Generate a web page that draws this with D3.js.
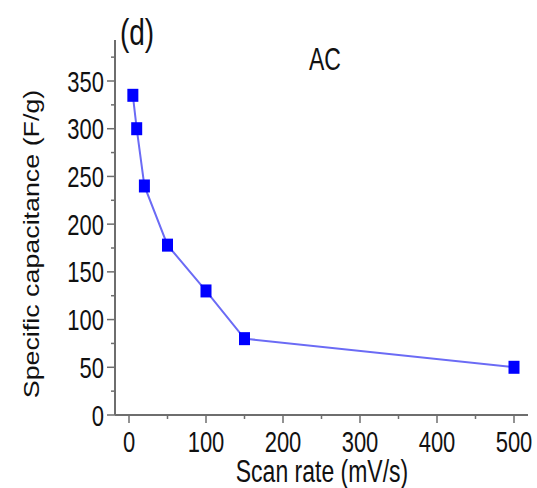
<!DOCTYPE html>
<html>
<head>
<meta charset="utf-8">
<script src="https://cdn.jsdelivr.net/npm/d3@7"></script>
<style>
  body { margin: 0; background: #fff; }
  text { font-family: "Liberation Sans", Arial, sans-serif; fill: #111; }
</style>
</head>
<body>
<svg id="chart" width="537" height="488"></svg>
<script>
// scan rate (mV/s) and specific capacitance (F/g)
var scanRate = [5, 10, 20, 50, 100, 150, 500];
var capacitance = [335, 300, 240, 178, 130, 80, 50];
var xTicks = [0, 100, 200, 300, 400, 500];
var yTicks = [0, 50, 100, 150, 200, 250, 300, 350];

var svg = d3.select("#chart");
var axisColor = "#6e6e6e";
var sy = 1.33; // the source figure is stretched vertically

var x = d3.scaleLinear().domain([0, 500]).range([129, 514]);
var y = d3.scaleLinear().domain([0, 350]).range([415, 81]);

var x0 = 115, x1 = 528, y0 = 415, y1 = 40;

function label(px, py, size, anchor, txt) {
    return svg.append("text")
        .attr("transform", "translate(" + px + "," + py + ") scale(1," + sy + ")")
        .attr("text-anchor", anchor).attr("font-size", size)
        .text(txt);
}

// axis lines
svg.append("line").attr("x1", x0).attr("x2", x1).attr("y1", y0).attr("y2", y0)
    .attr("stroke", axisColor).attr("stroke-width", 2);
svg.append("line").attr("x1", x0).attr("x2", x0).attr("y1", y0).attr("y2", y1)
    .attr("stroke", axisColor).attr("stroke-width", 2);

// x ticks
var xMinor = d3.range(50, 500, 100);
svg.selectAll(".xminor").data(xMinor).enter().append("line")
    .attr("x1", function (d) { return x(d); }).attr("x2", function (d) { return x(d); })
    .attr("y1", y0).attr("y2", y0 + 4)
    .attr("stroke", axisColor).attr("stroke-width", 1.5);
svg.selectAll(".xmajor").data(xTicks).enter().append("line")
    .attr("x1", function (d) { return x(d); }).attr("x2", function (d) { return x(d); })
    .attr("y1", y0).attr("y2", y0 + 8)
    .attr("stroke", axisColor).attr("stroke-width", 1.5);
xTicks.forEach(function (d) { label(x(d), 452, 22, "middle", d); });

// y ticks
var yMinor = d3.range(25, 400, 50);
svg.selectAll(".yminor").data(yMinor).enter().append("line")
    .attr("x1", x0).attr("x2", x0 - 4)
    .attr("y1", function (d) { return y(d); }).attr("y2", function (d) { return y(d); })
    .attr("stroke", axisColor).attr("stroke-width", 1.5);
svg.selectAll(".ymajor").data(yTicks).enter().append("line")
    .attr("x1", x0).attr("x2", x0 - 8)
    .attr("y1", function (d) { return y(d); }).attr("y2", function (d) { return y(d); })
    .attr("stroke", axisColor).attr("stroke-width", 1.5);
yTicks.forEach(function (d) { label(x0 - 11, y(d) + 10.5, 22, "end", d); });

// axis titles
label(322, 482, 23, "middle", "Scan rate (mV/s)");
svg.append("text")
    .attr("transform", "translate(39,244) rotate(-90) scale(1.22,1)")
    .attr("text-anchor", "middle").attr("font-size", 22)
    .text("Specific capacitance (F/g)");

// annotations
label(137, 45, 28, "middle", "(d)");
label(325, 70, 23, "middle", "AC");

// series
var pts = scanRate.map(function (d, i) { return [d, capacitance[i]]; });
var line = d3.line().x(function (d) { return x(d[0]); }).y(function (d) { return y(d[1]); });
svg.append("path").datum(pts).attr("d", line)
    .attr("fill", "none").attr("stroke", "#6b6bf5").attr("stroke-width", 2);
svg.selectAll(".pt").data(pts).enter().append("rect")
    .attr("x", function (d) { return x(d[0]) - 5.5; })
    .attr("y", function (d) { return y(d[1]) - 6.5; })
    .attr("width", 11).attr("height", 13)
    .attr("fill", "#0000ff");
</script>
</body>
</html>
